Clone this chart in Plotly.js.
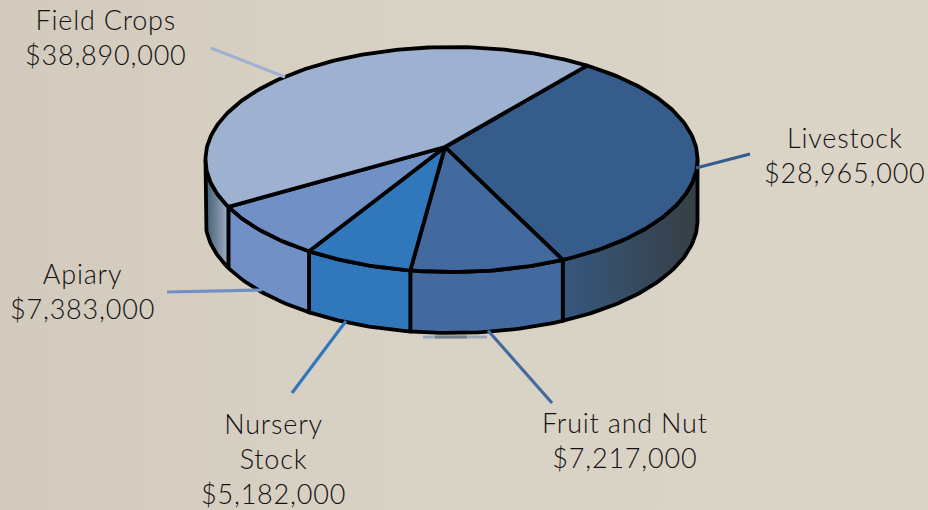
<!DOCTYPE html>
<html><head><meta charset="utf-8">
<script src="https://cdn.plot.ly/plotly-3.0.1.min.js"></script>
<style>html,body{margin:0;padding:0;width:928px;height:510px;overflow:hidden;background:linear-gradient(90deg,#D2CABD 0%,#D8D2C5 45%,#DBD5C8 100%);}
.annotation-text{letter-spacing:0.8px;}</style>
</head><body><div id="chart" style="width:928px;height:510px"></div>
<script>
// Data, clockwise from the top-right boundary
const categories = ['Livestock','Fruit and Nut','Nursery Stock','Apiary','Field Crops'];
const values = [28965000,7217000,5182000,7383000,38890000];
const labelLines = [['Livestock'],['Fruit and Nut'],['Nursery','Stock'],['Apiary'],['Field Crops']];
const topColors = ['#355C8A','#426A9E','#3077BC','#7090C6','#9FB1D1'];
const wallStyles = [
  [[0,'#36587F'],[1,'#363F44']],
  '#426A9E','#3077BC','#7090C6',
  [[0,'#3F5D75'],[1,'#A3AFC4']]
];
// Geometry of the drawing, in axis units
const C = {x:451.5,y:159.5,rx:246,ry:112.5,depth:61,apexX:445,apexY:147,startDeg:52};
// The source illustration is hand-placed: small per-boundary offsets, in degrees
const boundaryNudgeDeg = [-0.6,2.5,-0.7,-2.9,-0.6,-0.6];
const labelPos = [[845,155],[625,440],[273,458],[82,291],[106,37]];
const leaders = [
  [[750,154],[696,168],'#355C8A'],
  [[552,403],[488,330.5],'#426A9E'],
  [[292,393],[346,321],'#3077BC'],
  [[167,292],[262,290],'#7090C6'],
  [[211,48],[285,77],'#9FB1D1']
];
const total = values.reduce((a,b)=>a+b,0);
const px = (C.apexX-C.x)/C.rx, py = (C.y-C.apexY)/C.ry;
function rimPhi(deg){
  const t=deg*Math.PI/180, dx=Math.cos(t), dy=Math.sin(t);
  const b=px*dx+py*dy, c=px*px+py*py-1, k=-b+Math.sqrt(b*b-c);
  return Math.atan2(py+k*dy,px+k*dx)*180/Math.PI;
}
function arc(a,b,off){
  const n=Math.max(2,Math.ceil(Math.abs(a-b))), xs=[], ys=[];
  for(let i=0;i<=n;i++){
    const p=(a+(b-a)*i/n)*Math.PI/180;
    xs.push(C.x+C.rx*Math.cos(p)); ys.push(C.y-C.ry*Math.sin(p)+off);
  }
  return [xs,ys];
}
// boundaries
let ang=C.startDeg; const bounds=[ang];
values.forEach(v=>{ang-=v/total*360; bounds.push(ang);});
let phis=bounds.map((b,i)=>rimPhi(b+boundaryNudgeDeg[i]));
for(let i=1;i<phis.length;i++){ while(phis[i]>phis[i-1]) phis[i]-=360; }
const lineStyle={color:'#000',width:3.8};
const walls=[], tops=[];
categories.forEach((name,i)=>{
  const a=phis[i], b=phis[i+1];
  // the visible wall is the part of the rim on the front half (sin<0)
  const wa=Math.min(a,0)>-180?Math.min(a,0):-180, wb=Math.max(b,-180);
  if(wa>wb){
    const [x1,y1]=arc(wa,wb,0), [x2,y2]=arc(wb,wa,C.depth);
    const t={type:'scatter',mode:'lines',x:x1.concat(x2,[x1[0]]),y:y1.concat(y2,[y1[0]]),fill:'toself',
      line:lineStyle,hoverinfo:'skip',showlegend:false};
    const s=wallStyles[i];
    if(typeof s==='string') t.fillcolor=s; else t.fillgradient={type:'horizontal',colorscale:s};
    walls.push(t);
  }
  const [ax,ay]=arc(a,b,0);
  tops.push({type:'scatter',mode:'lines',name:name,
    x:[C.apexX].concat(ax,[C.apexX]),y:[C.apexY].concat(ay,[C.apexY]),
    fill:'toself',fillcolor:topColors[i],line:lineStyle,showlegend:false,
    text:'$'+values[i].toLocaleString('en-US'),hoverinfo:'name+text'});
});
const annotations=categories.map((n,i)=>({
  x:labelPos[i][0],y:labelPos[i][1],xref:'x',yref:'y',showarrow:false,align:'center',xanchor:'center',yanchor:'middle',
  text:labelLines[i].concat(['$'+values[i].toLocaleString('en-US')]).join('<br>'),
  font:{family:'Lato, sans-serif',size:27,weight:300,color:'#141112'}
}));
const shapes=leaders.map(l=>({type:'line',layer:'above',xref:'x',yref:'y',x0:l[0][0],y0:l[0][1],x1:l[1][0],y1:l[1][1],line:{color:l[2],width:3.2}}));
shapes.push({type:'line',layer:'below',xref:'x',yref:'y',x0:423,x1:487,y0:337,y1:337,line:{color:'#9CA7B6',width:3}});
shapes.push({type:'line',layer:'below',xref:'x',yref:'y',x0:435,x1:467,y0:337,y1:337,line:{color:'#727F8E',width:3}});
Plotly.newPlot('chart',walls.concat(tops),{
  width:928,height:510,margin:{l:0,r:0,t:0,b:0},
  paper_bgcolor:'rgba(0,0,0,0)',plot_bgcolor:'rgba(0,0,0,0)',
  xaxis:{range:[0,928],visible:false,fixedrange:true},
  yaxis:{range:[510,0],visible:false,fixedrange:true},
  annotations:annotations,shapes:shapes,showlegend:false
},{displayModeBar:false,staticPlot:true});
</script></body></html>
